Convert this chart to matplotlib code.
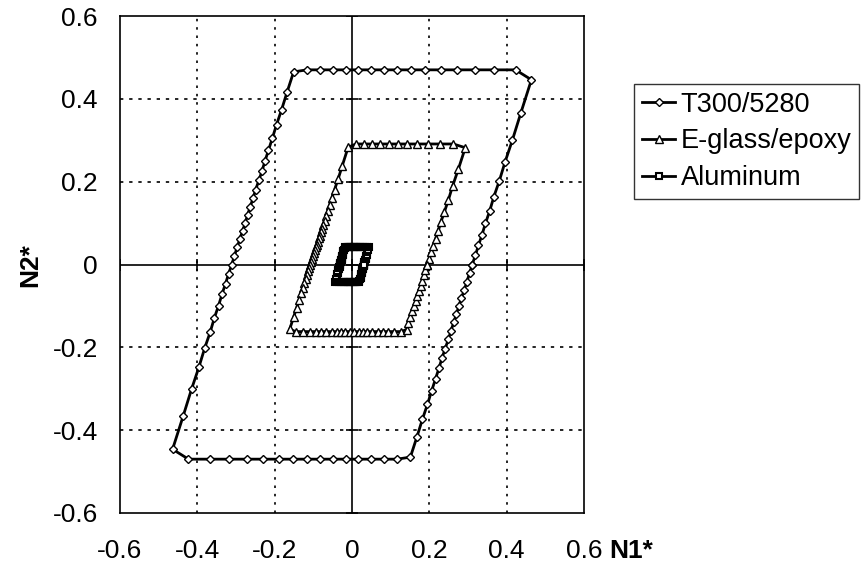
import matplotlib
matplotlib.use('Agg')
from matplotlib import pyplot as plt

plt.rcParams['font.family'] = ['Liberation Sans', 'DejaVu Sans']

# T300/5280 envelope
t300_x = [0.311, 0.319, 0.327, 0.336, 0.345, 0.356, 0.367, 0.381, 0.396, 0.415, 0.437, 0.464,
          0.423, 0.367, 0.317, 0.271, 0.229, 0.190, 0.153, 0.117, 0.083, 0.049, 0.016, -0.016, -0.049, -0.083, -0.117,
          -0.151, -0.168, -0.182, -0.195, -0.206, -0.216, -0.225, -0.233, -0.241, -0.249, -0.256, -0.263, -0.270, -0.276, -0.283,
          -0.290, -0.297, -0.304, -0.311, -0.319, -0.327, -0.336, -0.345, -0.356, -0.367, -0.381, -0.396, -0.415, -0.437, -0.464,
          -0.423, -0.367, -0.317, -0.271, -0.229, -0.190, -0.153, -0.117, -0.083, -0.049, -0.016, 0.016, 0.049, 0.083, 0.117,
          0.151, 0.168, 0.182, 0.195, 0.206, 0.216, 0.225, 0.233, 0.241, 0.249, 0.256, 0.263, 0.270, 0.276, 0.283,
          0.290, 0.297, 0.304, 0.311]
t300_y = [0.000, 0.022, 0.046, 0.071, 0.099, 0.129, 0.164, 0.202, 0.248, 0.301, 0.367, 0.446,
          0.47, 0.47, 0.47, 0.47, 0.47, 0.47, 0.47, 0.47, 0.47, 0.47, 0.47, 0.47, 0.47, 0.47, 0.47,
          0.465, 0.416, 0.374, 0.338, 0.305, 0.276, 0.250, 0.225, 0.203, 0.181, 0.160, 0.140, 0.120, 0.101, 0.081,
          0.062, 0.042, 0.021, 0.000, -0.022, -0.046, -0.071, -0.099, -0.129, -0.164, -0.202, -0.248, -0.301, -0.367, -0.446,
          -0.47, -0.47, -0.47, -0.47, -0.47, -0.47, -0.47, -0.47, -0.47, -0.47, -0.47, -0.47, -0.47, -0.47, -0.47,
          -0.465, -0.416, -0.374, -0.338, -0.305, -0.276, -0.250, -0.225, -0.203, -0.181, -0.160, -0.140, -0.120, -0.101, -0.081,
          -0.062, -0.042, -0.021, 0.000]

# E-glass/epoxy envelope
eglass_x = [0.195, 0.200, 0.205, 0.210, 0.216, 0.223, 0.230, 0.239, 0.249, 0.260, 0.275, 0.293,
            0.262, 0.227, 0.196, 0.168, 0.142, 0.118, 0.095, 0.073, 0.051, 0.031, 0.010,
            -0.010, -0.025, -0.036, -0.045, -0.052, -0.058, -0.063, -0.067, -0.071, -0.075, -0.078, -0.081,
            -0.083, -0.086, -0.089, -0.091, -0.093, -0.096, -0.098, -0.100, -0.103, -0.105, -0.108, -0.110,
            -0.113, -0.116, -0.119, -0.123, -0.127, -0.132, -0.137, -0.143, -0.151, -0.161,
            -0.146, -0.127, -0.109, -0.094, -0.079, -0.066, -0.053, -0.040, -0.029, -0.017, -0.006,
            0.006, 0.017, 0.029, 0.040, 0.053, 0.066, 0.079, 0.094, 0.109, 0.127,
            0.141, 0.146, 0.151, 0.156, 0.160, 0.165, 0.169, 0.173, 0.178, 0.182, 0.186, 0.190, 0.195]
eglass_y = [0.000, 0.014, 0.029, 0.045, 0.062, 0.081, 0.103, 0.127, 0.155, 0.189, 0.230, 0.282,
            0.291, 0.291, 0.291, 0.291, 0.291, 0.291, 0.291, 0.291, 0.291, 0.291, 0.291,
            0.283, 0.239, 0.206, 0.181, 0.161, 0.144, 0.129, 0.117, 0.106, 0.095, 0.086, 0.078,
            0.070, 0.063, 0.055, 0.048, 0.042, 0.035, 0.028, 0.021, 0.014, 0.007, 0.000, -0.008,
            -0.016, -0.025, -0.034, -0.045, -0.057, -0.070, -0.086, -0.104, -0.127, -0.156,
            -0.162, -0.162, -0.162, -0.162, -0.162, -0.162, -0.162, -0.162, -0.162, -0.162, -0.162,
            -0.162, -0.162, -0.162, -0.162, -0.162, -0.162, -0.162, -0.162, -0.162, -0.162,
            -0.157, -0.141, -0.127, -0.113, -0.100, -0.088, -0.075, -0.063, -0.051, -0.039, -0.026, -0.013, 0.000]

# Aluminum envelope
alu_x = [0.031, 0.032, 0.032, 0.033, 0.034, 0.035, 0.036, 0.037, 0.038, 0.040, 0.041,
         0.044, 0.038, 0.033, 0.028, 0.024, 0.021, 0.017, 0.014, 0.011, 0.007, 0.004, 0.002,
         -0.002, -0.004, -0.007, -0.011, -0.014, -0.017,
         -0.019, -0.020, -0.022, -0.022, -0.023, -0.024, -0.025, -0.026, -0.026, -0.027, -0.027,
         -0.028, -0.029, -0.029, -0.030, -0.030,
         -0.031, -0.032, -0.032, -0.033, -0.034, -0.035, -0.036, -0.037, -0.038, -0.040, -0.041,
         -0.044, -0.038, -0.033, -0.028, -0.024, -0.021, -0.017, -0.014, -0.011, -0.007, -0.004, -0.002,
         0.002, 0.004, 0.007, 0.011, 0.014, 0.017,
         0.019, 0.020, 0.022, 0.022, 0.023, 0.024, 0.025, 0.026, 0.026, 0.027, 0.027,
         0.028, 0.029, 0.029, 0.030, 0.030, 0.031]
alu_y = [0.000, 0.002, 0.005, 0.007, 0.010, 0.013, 0.016, 0.020, 0.024, 0.029, 0.035,
         0.042, 0.042, 0.042, 0.042, 0.042, 0.042, 0.042, 0.042, 0.042, 0.042, 0.042, 0.042,
         0.042, 0.042, 0.042, 0.042, 0.042, 0.042,
         0.039, 0.035, 0.032, 0.029, 0.026, 0.023, 0.021, 0.019, 0.016, 0.014, 0.012,
         0.010, 0.008, 0.006, 0.004, 0.002,
         0.000, -0.002, -0.005, -0.007, -0.010, -0.013, -0.016, -0.020, -0.024, -0.029, -0.035,
         -0.042, -0.042, -0.042, -0.042, -0.042, -0.042, -0.042, -0.042, -0.042, -0.042, -0.042, -0.042,
         -0.042, -0.042, -0.042, -0.042, -0.042, -0.042,
         -0.039, -0.035, -0.032, -0.029, -0.026, -0.023, -0.021, -0.019, -0.016, -0.014, -0.012,
         -0.010, -0.008, -0.006, -0.004, -0.002, 0.000]

ticks = [-0.6, -0.4, -0.2, 0, 0.2, 0.4, 0.6]
tick_labels = ['-0.6', '-0.4', '-0.2', '0', '0.2', '0.4', '0.6']
grid_ticks = [-0.4, -0.2, 0.2, 0.4]

fig = plt.figure(figsize=(8.64, 5.70), dpi=100)
ax = fig.add_axes([120 / 864, 1 - 513 / 570, 464 / 864, 497 / 570])

for g in grid_ticks:
    ax.axvline(g, color='black', lw=1.2, ls=(0, (1.5, 3.5)), zorder=1)
    ax.axhline(g, color='black', lw=1.2, ls=(0, (2, 3.5)), zorder=1)
ax.axvline(0, color='black', lw=1.2, zorder=2)
ax.axhline(0, color='black', lw=1.2, zorder=2)
# small cross ticks on the zero axes
ax.plot([0] * len(ticks), ticks, ls='none', marker='_', ms=8, mew=1.2, color='black', zorder=2)
ax.plot(ticks, [0] * len(ticks), ls='none', marker='|', ms=8, mew=1.2, color='black', zorder=2)

ax.plot(t300_x, t300_y, color='black', lw=2, marker='D', ms=4.2, mfc='white', mec='black', mew=1,
        label='T300/5280', zorder=3)
ax.plot(eglass_x, eglass_y, color='black', lw=2, marker='^', ms=6, mfc='white', mec='black', mew=1,
        label='E-glass/epoxy', zorder=4)
ax.plot(alu_x, alu_y, color='black', lw=2.5, marker='s', ms=4.5, mfc='white', mec='black', mew=1.5,
        label='Aluminum', zorder=5)

ax.set_xlim(-0.6, 0.6)
ax.set_ylim(-0.6, 0.6)
ax.set_xticks(ticks)
ax.set_xticklabels(tick_labels, fontsize=19)
ax.set_yticks(ticks)
ax.set_yticklabels(tick_labels, fontsize=19)
ax.tick_params(axis='x', length=0, pad=19)
ax.tick_params(axis='y', length=0, pad=16)
for s in ax.spines.values():
    s.set_linewidth(1.2)
    s.set_color('black')

fig.text(0.731, 0.033, 'N1*', fontsize=19, fontweight='bold', ha='center', va='center')
fig.text(0.035, 0.535, 'N2*', fontsize=19, fontweight='bold', ha='center', va='center', rotation=90)

leg = ax.legend(loc='upper left', bbox_to_anchor=(634 / 864, 1 - 84 / 570), bbox_transform=fig.transFigure,
                fontsize=19.5, frameon=True, fancybox=False, borderaxespad=0, handlelength=1.25,
                handletextpad=0.2, labelspacing=0.4, borderpad=0.28)
leg.get_frame().set_edgecolor('black')
leg.get_frame().set_linewidth(1)
for h in leg.legend_handles:
    h.set_linewidth(2)

fig.savefig('out.png', dpi=100)
